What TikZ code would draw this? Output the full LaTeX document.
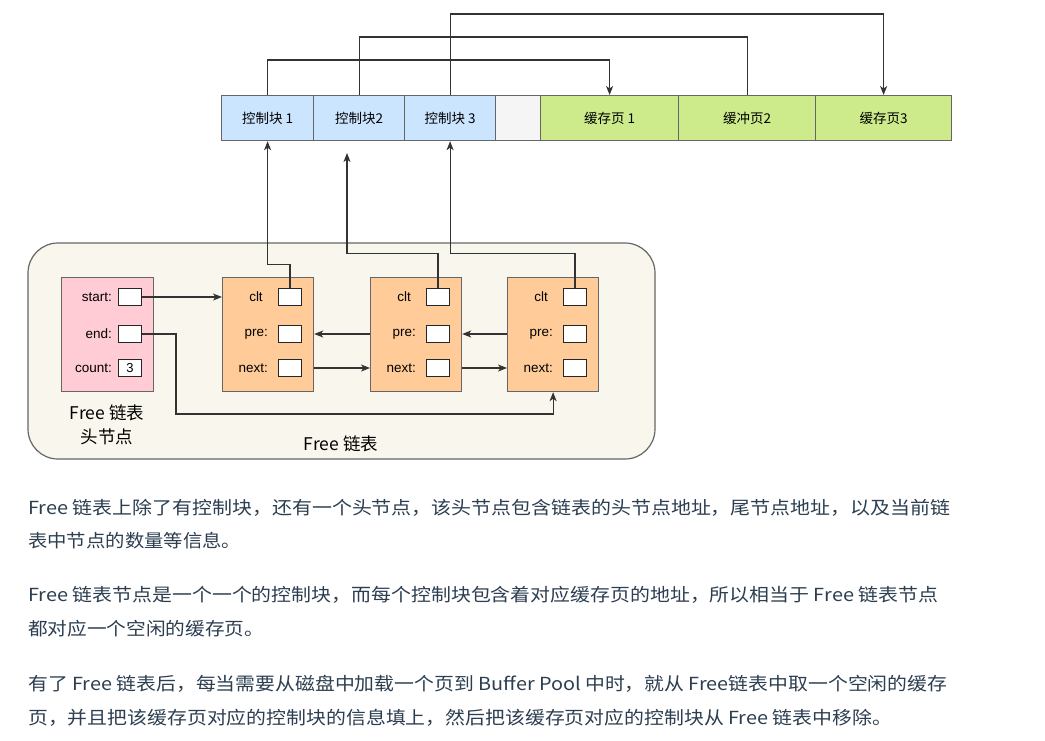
\documentclass[tikz,border=0pt]{standalone}
\usepackage{fontspec}
\usepackage{graphicx}
\setmainfont{Liberation Sans}
\newfontfamily\cjk{Noto Sans CJK SC}
\usetikzlibrary{arrows.meta}
\definecolor{cblue}{HTML}{CCE5FF}
\definecolor{cgreen}{HTML}{CDEB8B}
\definecolor{cgray}{HTML}{F5F5F5}
\definecolor{cpink}{HTML}{FFCCD5}
\definecolor{corange}{HTML}{FFCC99}
\definecolor{civory}{HTML}{F9F7ED}
\definecolor{cstroke}{HTML}{666666}
\definecolor{ctext}{HTML}{2C3E50}
\tikzset{
  cell/.style={draw=cstroke, line width=1.2pt, minimum height=45, inner sep=0, anchor=north west, font=\cjk\fontsize{13.5}{15}\selectfont},
  card/.style={draw=cstroke, line width=1.2pt, minimum height=114, minimum width=91, inner sep=0, anchor=north west},
  slot/.style={draw=black!85, fill=white, line width=1pt, minimum width=23, minimum height=17.5, inner sep=0, font=\fontsize{13}{14}\selectfont},
  lbl/.style={inner sep=0, font=\fontsize{13.5}{15}\selectfont},
  arr/.style={-{Stealth[length=9pt,width=7pt,inset=2.5pt]}},
  wire/.style={line width=1.2pt, draw=black!80},
  para/.style={inner sep=0, anchor=west, text=ctext},
}
\begin{document}
\begin{tikzpicture}[x=1pt,y=-1pt]
\useasboundingbox (0,0) rectangle (1045,740);
\fill[white] (0,0) rectangle (1045,740);

% top row
\node[cell, fill=cblue, minimum width=92] (k1) at (221,95) {控制块 1};
\node[cell, fill=cblue, minimum width=91] (k2) at (313,95) {控制块2};
\node[cell, fill=cblue, minimum width=91] (k3) at (404,95) {控制块 3};
\node[cell, fill=cgray, minimum width=45] (g) at (495,95) {};
\node[cell, fill=cgreen, minimum width=138] (p1) at (540,95) {缓存页 1};
\node[cell, fill=cgreen, minimum width=137] (p2) at (678,95) {缓冲页2};
\node[cell, fill=cgreen, minimum width=136] (p3) at (815,95) {缓存页3};

% container
\draw[draw=cstroke, fill=civory, line width=1.2pt, rounded corners=30] (28,243) rectangle (655,459);

% head node
\node[card, fill=cpink, minimum width=92] (head) at (61,277) {};
\node[lbl, anchor=east] (ls) at (112,297) {start:};
\node[lbl, anchor=east] (le) at (112,334) {end:};
\node[lbl, anchor=east] (lc) at (112,368) {count:};
\node[slot] (hs) at (130,297) {};
\node[slot] (he) at (130,334) {};
\node[slot] (hc) at (130,368) {3};

% list nodes
\node[card, fill=corange] (n1) at (222,277) {};
\node[card, fill=corange] (n2) at (370,277) {};
\node[card, fill=corange] (n3) at (507,277) {};

\node[lbl] (n1c) at (256,297) {clt};
\node[lbl, anchor=east] (n1p) at (268,334) {pre:};
\node[lbl, anchor=east] (n1n) at (268,368) {next:};
\node[slot] (b1c) at (290,297) {};
\node[slot] (b1p) at (290,334) {};
\node[slot] (b1n) at (290,368) {};

\node[lbl] (n2c) at (404,297) {clt};
\node[lbl, anchor=east] (n2p) at (416,334) {pre:};
\node[lbl, anchor=east] (n2n) at (416,368) {next:};
\node[slot] (b2c) at (438,297) {};
\node[slot] (b2p) at (438,334) {};
\node[slot] (b2n) at (438,368) {};

\node[lbl] (n3c) at (541,297) {clt};
\node[lbl, anchor=east] (n3p) at (553,334) {pre:};
\node[lbl, anchor=east] (n3n) at (553,368) {next:};
\node[slot] (b3c) at (575,297) {};
\node[slot] (b3p) at (575,334) {};
\node[slot] (b3n) at (575,368) {};

% labels
\node[inner sep=0, font=\cjk\fontsize{17.5}{24}\selectfont, align=center] (hl) at (107,425) {Free 链表\\头节点};
\node[inner sep=0, font=\cjk\fontsize{17.5}{20}\selectfont] (ll) at (341,444) {Free 链表};

% list wiring
\draw[wire, arr] (hs.east) -- (n1.west |- hs);
\coordinate (e1) at (176,414);
\draw[wire, arr] (he.east) -| (e1) -| (n3.south);
\draw[wire, arr] (n1.east |- b1n) -- (n2.west |- b1n);
\draw[wire, arr] (n2.east |- b2n) -- (n3.west |- b2n);
\draw[wire, arr] (n2.west |- b2p) -- (n1.east |- b1p);
\draw[wire, arr] (n3.west |- b3p) -- (n2.east |- b2p);

% clt wiring
\draw[wire, arr] (b1c.north) -- ++(0,-23) -| (k1.south);
\coordinate (k2t) at (347,153);
\draw[wire, arr] (b2c.north) -- ++(0,-34) -| (k2t);
\draw[wire, arr] (b3c.north) -- ++(0,-34) -| (k3.south);

% top wiring
\draw[wire, arr] (k1.north) -- ++(0,-35) -| (p1.north);
\draw[wire] (k2.north) -- ++(0,-58) -| (p2.north);
\draw[wire, arr] (k3.north) -- ++(0,-81) -| (p3.north);

% paragraphs
\node[para] (t1) at (28,508) {\resizebox{922pt}{\height}{\cjk\fontsize{18}{20}\selectfont Free 链表上除了有控制块，还有一个头节点，该头节点包含链表的头节点地址，尾节点地址，以及当前链}};
\node[para] (t2) at (28,541) {\resizebox{213pt}{\height}{\cjk\fontsize{18}{20}\selectfont 表中节点的数量等信息。}};
\node[para] (t3) at (28,595) {\resizebox{910pt}{\height}{\cjk\fontsize{18}{20}\selectfont Free 链表节点是一个一个的控制块，而每个控制块包含着对应缓存页的地址，所以相当于 Free 链表节点}};
\node[para] (t4) at (28,629) {\resizebox{236pt}{\height}{\cjk\fontsize{18}{20}\selectfont 都对应一个空闲的缓存页。}};
\node[para] (t5) at (28,684) {\resizebox{919pt}{\height}{\cjk\fontsize{18}{20}\selectfont 有了 Free 链表后，每当需要从磁盘中加载一个页到 Buffer Pool 中时，就从 Free链表中取一个空闲的缓存}};
\node[para] (t6) at (28,718) {\resizebox{864pt}{\height}{\cjk\fontsize{18}{20}\selectfont 页，并且把该缓存页对应的控制块的信息填上，然后把该缓存页对应的控制块从 Free 链表中移除。}};
\end{tikzpicture}
\end{document}
